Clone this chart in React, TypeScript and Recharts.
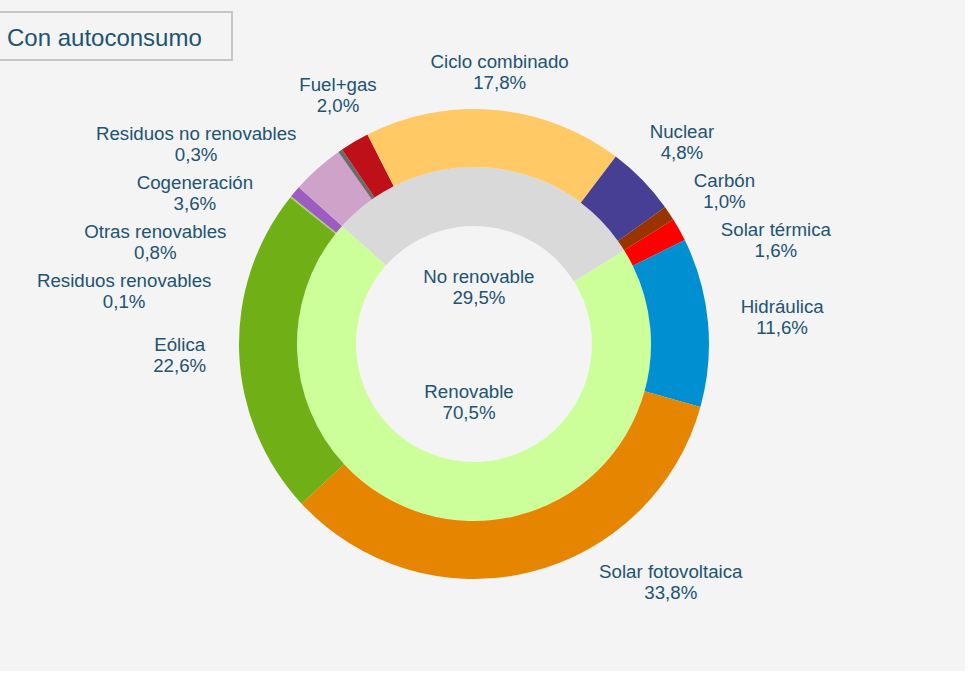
import React, { useMemo } from 'react';
import { PieChart, Pie, Cell } from 'recharts';

// ---- data ----
const sources = [
  'Solar térmica',
  'Hidráulica',
  'Solar fotovoltaica',
  'Eólica',
  'Residuos renovables',
  'Otras renovables',
  'Cogeneración',
  'Residuos no renovables',
  'Fuel+gas',
  'Ciclo combinado',
  'Nuclear',
  'Carbón',
];
const shares = [1.6, 11.6, 33.8, 22.6, 0.1, 0.8, 3.6, 0.3, 2.0, 17.8, 4.8, 1.0];
const sourceColors = [
  '#ff0000', '#0090d1', '#e68600', '#70b016', '#a8cf6a', '#9c5cc2',
  '#cfa2ca', '#6b6b6b', '#bd1019', '#ffca66', '#463f93', '#993300',
];
const groups = ['Renovable', 'No renovable'];
const groupShares = [70.5, 29.5];
const groupColors = ['#ccff99', '#d9d9d9'];
const title = 'Con autoconsumo';

// ---- layout constants ----
const W = 965;
const H = 671;
const CX = 474;
const CY = 344;
const R_IN = 118;
const R_MID = 177;
const R_OUT = 235;
const START = 32;
const RN = 290; // natural label radius
const RA = 268; // label edge radius
const GAP = 49;
const Y_MIN = 71;
const Y_MAX = 581;
const FS = 18.7;
const FONT = '"Liberation Sans", Arial, sans-serif';
const TEXT = '#215372';
const BG = '#f4f4f4';

const fmt = (v: number) => v.toFixed(1).replace('.', ',') + '%';

let ctx: CanvasRenderingContext2D | null = null;
const measure = (t: string) => {
  if (!ctx) {
    ctx = document.createElement('canvas').getContext('2d');
    if (ctx) ctx.font = `${FS}px ${FONT}`;
  }
  return ctx ? ctx.measureText(t).width : t.length * 9;
};

type LabelPos = { x: number; y: number };

function computeLayout(values: number[], names: string[]): LabelPos[] {
  const total = values.reduce((a, b) => a + b, 0);
  let cum = 0;
  const items = values.map((v, i) => {
    const mid = START - (360 * (cum + v / 2)) / total;
    cum += v;
    const rad = (mid * Math.PI) / 180;
    return { i, cos: Math.cos(rad), sin: Math.sin(rad), y: CY - RN * Math.sin(rad), x: 0 };
  });
  for (const side of [1, -1]) {
    const list = items
      .filter((it) => (it.cos >= 0 ? 1 : -1) === side)
      .sort((a, b) => a.y - b.y);
    list.forEach((it) => {
      it.y = Math.min(Math.max(it.y, Y_MIN), Y_MAX);
    });
    for (let k = 1; k < list.length; k++) {
      if (list[k].y < list[k - 1].y + GAP) list[k].y = list[k - 1].y + GAP;
    }
    if (list.length && list[list.length - 1].y > Y_MAX) {
      list[list.length - 1].y = Y_MAX;
      for (let k = list.length - 2; k >= 0; k--) {
        if (list[k].y > list[k + 1].y - GAP) list[k].y = list[k + 1].y - GAP;
      }
    }
    list.forEach((it) => {
      if (Math.abs(it.cos) < 0.2) {
        it.x = CX + RN * it.cos;
      } else {
        const dy = it.y - CY;
        const edge = Math.sqrt(Math.max(RA * RA - dy * dy, 0));
        const w = Math.max(measure(names[it.i]), measure(fmt(values[it.i])));
        it.x = CX + side * (edge + w / 2);
      }
    });
  }
  return items.map((it) => ({ x: it.x, y: it.y }));
}

const outerData = sources.map((name, i) => ({ name, value: shares[i] }));
const innerData = groups.map((name, i) => ({ name, value: groupShares[i] }));

const TwoLine = ({ x, y, a, b }: { x: number; y: number; a: string; b: string }) => (
  <text
    x={x}
    y={y}
    textAnchor="middle"
    fill={TEXT}
    style={{ fontFamily: FONT, fontSize: FS }}
  >
    <tspan x={x} y={y - 3.5}>{a}</tspan>
    <tspan x={x} y={y + 17.5}>{b}</tspan>
  </text>
);

export default function App() {
  const layout = useMemo(() => computeLayout(shares, sources), []);

  const outerLabel = (props: any) => {
    const L = layout[props.index];
    if (!L) return null;
    return <TwoLine x={L.x} y={L.y} a={sources[props.index]} b={fmt(shares[props.index])} />;
  };

  const innerLabel = (props: any) => {
    const rad = (props.midAngle * Math.PI) / 180;
    const r = 58;
    const x = props.cx + r * Math.cos(rad);
    const y = props.cy - r * Math.sin(rad);
    return <TwoLine x={x} y={y} a={groups[props.index]} b={fmt(groupShares[props.index])} />;
  };

  return (
    <div style={{ position: 'absolute', left: 0, top: 0, width: 979, height: 685, background: '#ffffff' }}>
      <div style={{ position: 'absolute', left: 0, top: 0, width: W, height: H, background: BG }}>
        <PieChart width={W} height={H} margin={{ top: 0, right: 0, bottom: 0, left: 0 }}>
          <Pie
            data={innerData}
            dataKey="value"
            nameKey="name"
            cx={CX}
            cy={CY}
            innerRadius={R_IN}
            outerRadius={R_MID}
            startAngle={START}
            endAngle={START - 360}
            stroke="none"
            label={innerLabel}
            labelLine={false}
            isAnimationActive={false}
          >
            {innerData.map((d, i) => (
              <Cell key={d.name} fill={groupColors[i]} />
            ))}
          </Pie>
          <Pie
            data={outerData}
            dataKey="value"
            nameKey="name"
            cx={CX}
            cy={CY}
            innerRadius={R_MID}
            outerRadius={R_OUT}
            startAngle={START}
            endAngle={START - 360}
            stroke="none"
            label={outerLabel}
            labelLine={false}
            isAnimationActive={false}
          >
            {outerData.map((d, i) => (
              <Cell key={d.name} fill={sourceColors[i]} />
            ))}
          </Pie>
        </PieChart>
        <svg
          width={260}
          height={70}
          style={{ position: 'absolute', left: 0, top: 0, overflow: 'visible' }}
        >
          <rect x={-2} y={12} width={234} height={48} fill={BG} stroke="#c6c6c6" strokeWidth={2} />
          <text x={7} y={46} fill={TEXT} style={{ fontFamily: FONT, fontSize: 24 }}>
            {title}
          </text>
        </svg>
      </div>
    </div>
  );
}
